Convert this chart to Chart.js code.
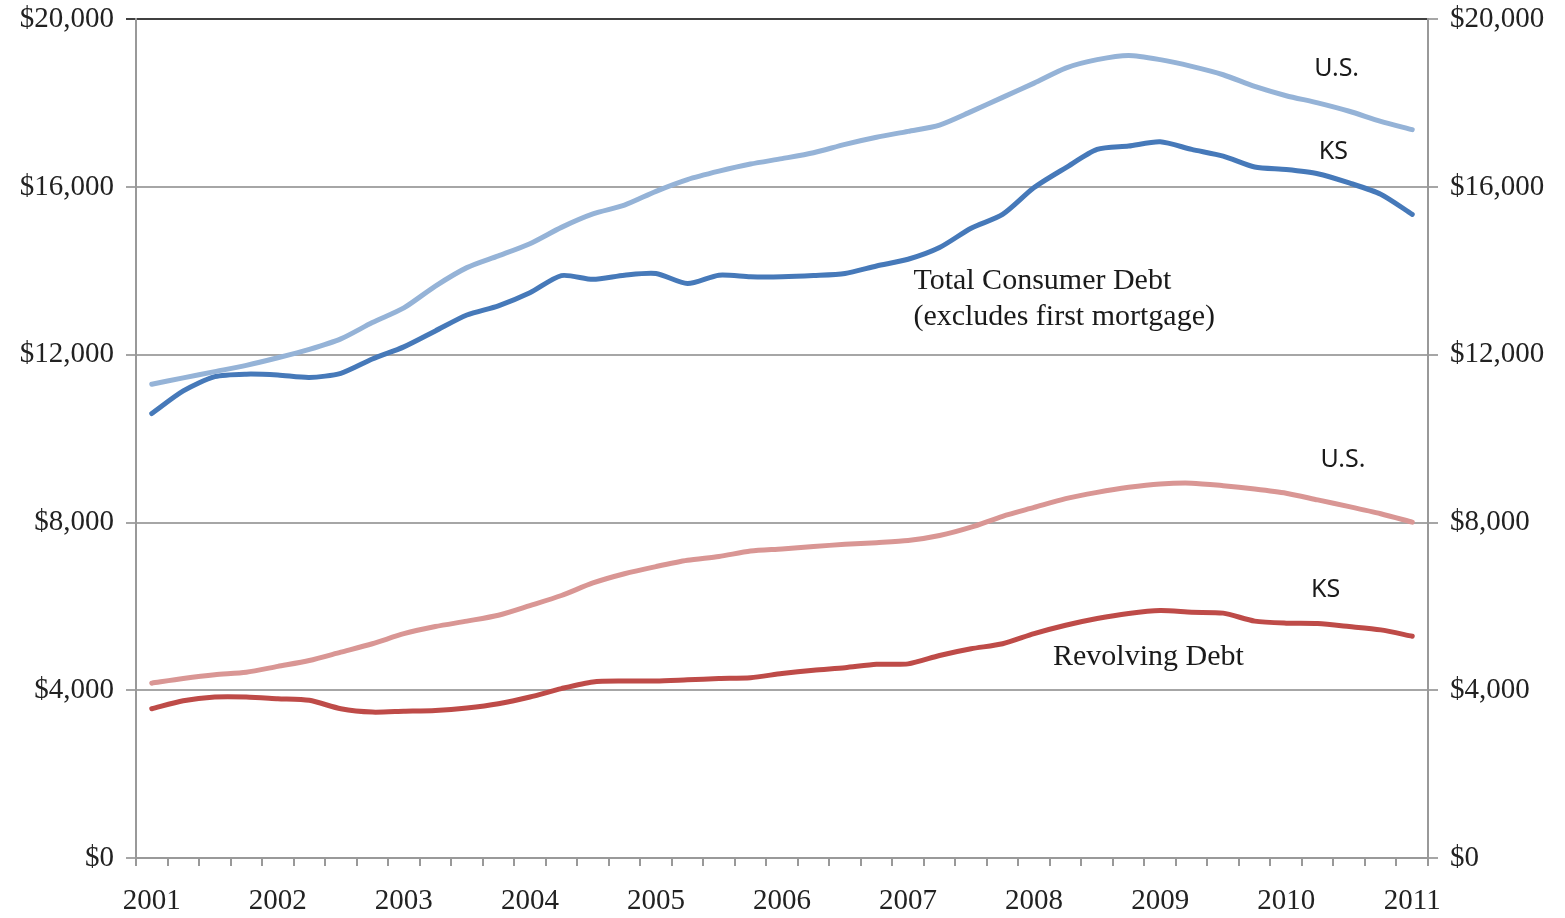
<!DOCTYPE html>
<html>
<head>
<meta charset="utf-8">
<script src="https://cdn.jsdelivr.net/npm/chart.js@4.4.0/dist/chart.umd.min.js"></script>
<style>
  body { margin: 0; background: #fff; overflow: hidden; }
  #frame { width: 1565px; height: 918px; overflow: hidden; position: relative; }
  #wrap { width: 1565px; height: 928px; position: absolute; top: -10px; left: 0; }
</style>
</head>
<body>
<div id="frame"><div id="wrap"><canvas id="chart"></canvas></div></div>
<script>
// quarterly, 2001 Q1 .. 2011 Q1
const years = ['2001', '2002', '2003', '2004', '2005', '2006', '2007', '2008', '2009', '2010', '2011'];
const quarters = [];
years.forEach((y, i) => {
    quarters.push(y);
    if (i < years.length - 1) quarters.push('', '', '');
});

const usTotal = [11300, 11450, 11600, 11750, 11930, 12130, 12380, 12770, 13120, 13640,
    14080, 14360, 14650, 15040, 15360, 15570, 15900, 16180, 16380, 16550,
    16680, 16820, 17020, 17190, 17330, 17480, 17800, 18140, 18480, 18840,
    19040, 19140, 19040, 18880, 18680, 18400, 18180, 18010, 17810, 17570, 17370];
const ksTotal = [10600, 11140, 11480, 11540, 11520, 11460, 11560, 11900, 12190, 12570,
    12950, 13170, 13480, 13890, 13800, 13900, 13940, 13700, 13900, 13860,
    13860, 13890, 13940, 14120, 14280, 14560, 15020, 15350, 15990, 16460,
    16900, 16980, 17080, 16900, 16740, 16480, 16420, 16320, 16100, 15830, 15350];
const usRevolving = [4170, 4280, 4370, 4430, 4570, 4710, 4910, 5110, 5350, 5520,
    5650, 5790, 6020, 6260, 6560, 6780, 6950, 7100, 7190, 7320,
    7370, 7430, 7480, 7520, 7570, 7690, 7890, 8150, 8360, 8570,
    8720, 8840, 8920, 8940, 8880, 8800, 8700, 8540, 8380, 8210, 8010];
const ksRevolving = [3560, 3750, 3840, 3840, 3800, 3760, 3560, 3480, 3500, 3520,
    3580, 3680, 3840, 4040, 4200, 4220, 4220, 4250, 4280, 4300,
    4400, 4480, 4540, 4620, 4630, 4830, 4990, 5110, 5350, 5550,
    5710, 5830, 5900, 5860, 5840, 5650, 5600, 5590, 5520, 5440, 5290];

const yTicks = [0, 4000, 8000, 12000, 16000, 20000];

const serif = '"Liberation Serif", "Times New Roman", serif';
const sans = '"Noto Sans", "Open Sans", sans-serif';

// text notes placed at (category index, value)
const notes = [
    { text: 'U.S.', i: 37.6, v: 18830, font: '25px ' + sans, align: 'center' },
    { text: 'KS', i: 37.5, v: 16830, font: '25px ' + sans, align: 'center' },
    { text: 'U.S.', i: 37.8, v: 9500, font: '25px ' + sans, align: 'center' },
    { text: 'KS', i: 37.25, v: 6400, font: '25px ' + sans, align: 'center' },
    { text: 'Total Consumer Debt', i: 24.17, v: 13760, font: '30px ' + serif, align: 'left' },
    { text: '(excludes first mortgage)', i: 24.17, v: 12900, font: '30px ' + serif, align: 'left' },
    { text: 'Revolving Debt', i: 28.6, v: 4790, font: '30px ' + serif, align: 'left' },
];

const notesPlugin = {
    id: 'notes',
    afterDatasetsDraw(chart) {
        const ctx = chart.ctx;
        const x = chart.scales.x, y = chart.scales.y;
        const step = x.getPixelForValue(1) - x.getPixelForValue(0);
        ctx.save();
        ctx.fillStyle = '#1a1a1a';
        ctx.textBaseline = 'middle';
        notes.forEach(n => {
            ctx.font = n.font;
            ctx.textAlign = n.align;
            const px = x.getPixelForValue(0) + n.i * step;
            ctx.fillText(n.text, px, y.getPixelForValue(n.v));
        });
        ctx.restore();
    }
};

const money = v => '$' + v.toLocaleString('en-US');

const line = (data, color) => ({
    data,
    borderColor: color,
    borderWidth: 5,
    pointRadius: 0,
    tension: 0.25,
    borderCapStyle: 'round',
    borderJoinStyle: 'round',
    fill: false,
});

new Chart(document.getElementById('chart'), {
    type: 'line',
    data: {
        labels: quarters,
        datasets: [
            line(usTotal, '#95b3d7'),
            line(ksTotal, '#4679b9'),
            line(usRevolving, '#d99694'),
            line(ksRevolving, '#be4b48'),
        ]
    },
    options: {
        responsive: true,
        maintainAspectRatio: false,
        animation: false,
        layout: { padding: { top: 8, left: 0, right: 0, bottom: 0 } },
        plugins: { legend: { display: false }, tooltip: { enabled: false } },
        scales: {
            x: {
                type: 'category',
                offset: true,
                grid: { offset: true, drawOnChartArea: false, drawTicks: true, tickLength: 8, color: '#999', lineWidth: 2 },
                border: { color: '#999', width: 2 },
                ticks: { autoSkip: false, maxRotation: 0, minRotation: 0, font: { family: serif, size: 29 }, color: '#222', padding: 18 },
                afterFit: s => { s.height = 60; }
            },
            y: {
                position: 'left',
                min: 0, max: 20000,
                afterBuildTicks: s => { s.ticks = yTicks.map(v => ({ value: v })); },
                ticks: { callback: money, font: { family: serif, size: 29 }, color: '#222', padding: 12 },
                grid: {
                    color: c => c.tick && c.tick.value === 20000 ? '#404040' : '#a6a6a6',
                    lineWidth: 2, tickLength: 10
                },
                border: { color: '#999', width: 2 },
                afterFit: s => { s.width = 136; }
            },
            y2: {
                position: 'right',
                min: 0, max: 20000,
                afterBuildTicks: s => { s.ticks = yTicks.map(v => ({ value: v })); },
                ticks: { callback: money, font: { family: serif, size: 29 }, color: '#222', padding: 12 },
                grid: { drawOnChartArea: false, color: '#a6a6a6', lineWidth: 2, tickLength: 10 },
                border: { color: '#999', width: 2 },
                afterFit: s => { s.width = 137; }
            }
        }
    },
    plugins: [notesPlugin]
});
</script>
</body>
</html>
